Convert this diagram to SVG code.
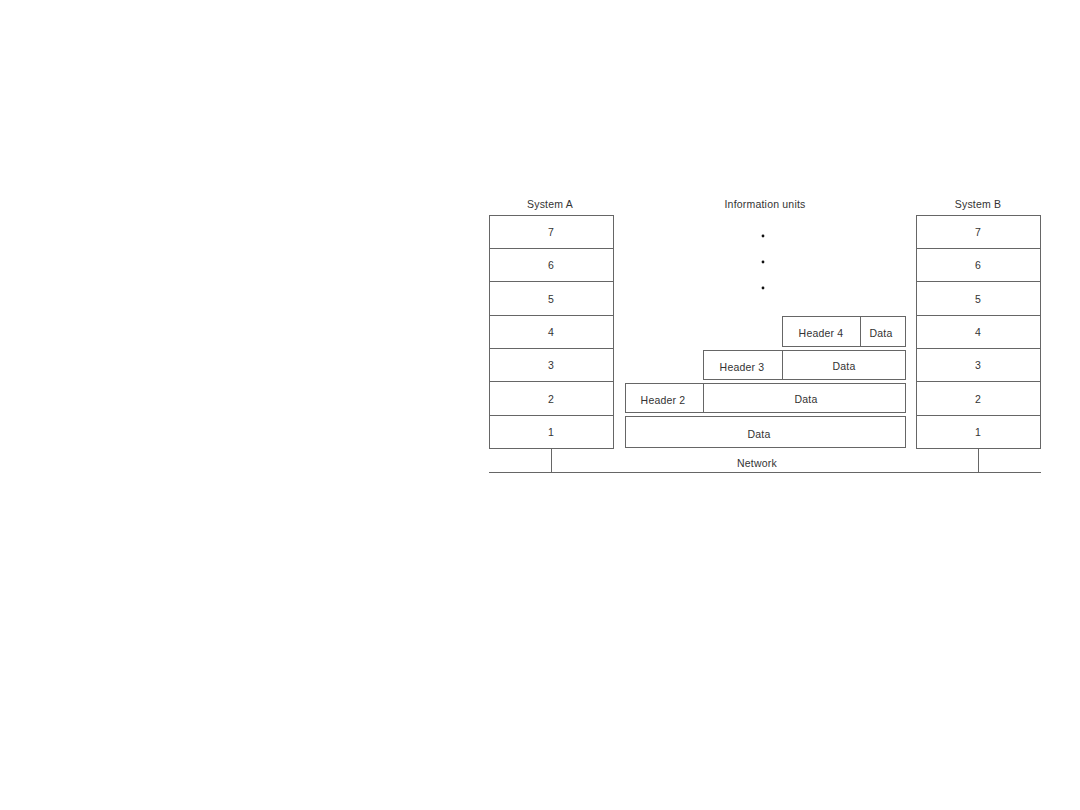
<svg xmlns="http://www.w3.org/2000/svg" width="1080" height="810" viewBox="0 0 1080 810">
<style>
.box{fill:#fff;stroke:#666;stroke-width:1}
.ln{stroke:#666;stroke-width:1;fill:none}
text{font-family:"Liberation Sans",Arial,sans-serif;font-size:10.5px;letter-spacing:0.2px;fill:#333;text-anchor:middle}
</style>
<rect width="1080" height="810" fill="#fff"/>
<g id="labels">
<text x="550" y="208">System A</text>
<text x="765" y="208">Information units</text>
<text x="978" y="208">System B</text>
<text x="757" y="467">Network</text>
</g>
<g id="dots" fill="#111">
<circle cx="763" cy="236" r="1.4"/>
<circle cx="763" cy="262" r="1.4"/>
<circle cx="763" cy="288" r="1.4"/>
</g>
<g id="systemA">
<rect class="box" x="489.5" y="215.5" width="124" height="33"/>
<rect class="box" x="489.5" y="248.5" width="124" height="33"/>
<rect class="box" x="489.5" y="281.5" width="124" height="34"/>
<rect class="box" x="489.5" y="315.5" width="124" height="33"/>
<rect class="box" x="489.5" y="348.5" width="124" height="33"/>
<rect class="box" x="489.5" y="381.5" width="124" height="34"/>
<rect class="box" x="489.5" y="415.5" width="124" height="33"/>
<text x="551" y="236">7</text>
<text x="551" y="269">6</text>
<text x="551" y="303">5</text>
<text x="551" y="336">4</text>
<text x="551" y="369">3</text>
<text x="551" y="403">2</text>
<text x="551" y="436">1</text>
</g>
<g id="systemB">
<rect class="box" x="916.5" y="215.5" width="124" height="33"/>
<rect class="box" x="916.5" y="248.5" width="124" height="33"/>
<rect class="box" x="916.5" y="281.5" width="124" height="34"/>
<rect class="box" x="916.5" y="315.5" width="124" height="33"/>
<rect class="box" x="916.5" y="348.5" width="124" height="33"/>
<rect class="box" x="916.5" y="381.5" width="124" height="34"/>
<rect class="box" x="916.5" y="415.5" width="124" height="33"/>
<text x="978" y="236">7</text>
<text x="978" y="269">6</text>
<text x="978" y="303">5</text>
<text x="978" y="336">4</text>
<text x="978" y="369">3</text>
<text x="978" y="403">2</text>
<text x="978" y="436">1</text>
</g>
<g id="unit4">
<rect class="box" x="782.5" y="316.5" width="123" height="30"/>
<line class="ln" x1="860.5" y1="316.5" x2="860.5" y2="346.5"/>
<text x="821" y="337">Header 4</text>
<text x="881" y="337">Data</text>
</g>
<g id="unit3">
<rect class="box" x="703.5" y="350.5" width="202" height="29"/>
<line class="ln" x1="782.5" y1="350.5" x2="782.5" y2="379.5"/>
<text x="742" y="371">Header 3</text>
<text x="844" y="370">Data</text>
</g>
<g id="unit2">
<rect class="box" x="625.5" y="383.5" width="280" height="29"/>
<line class="ln" x1="703.5" y1="383.5" x2="703.5" y2="412.5"/>
<text x="663" y="404">Header 2</text>
<text x="806" y="403">Data</text>
</g>
<g id="unit1">
<rect class="box" x="625.5" y="416.5" width="280" height="31"/>
<text x="759" y="438">Data</text>
</g>
<g id="connectors">
<line class="ln" x1="489" y1="472.5" x2="1041" y2="472.5"/>
<line class="ln" x1="551.5" y1="448.5" x2="551.5" y2="472.5"/>
<line class="ln" x1="978.5" y1="448.5" x2="978.5" y2="472.5"/>
</g>
</svg>
